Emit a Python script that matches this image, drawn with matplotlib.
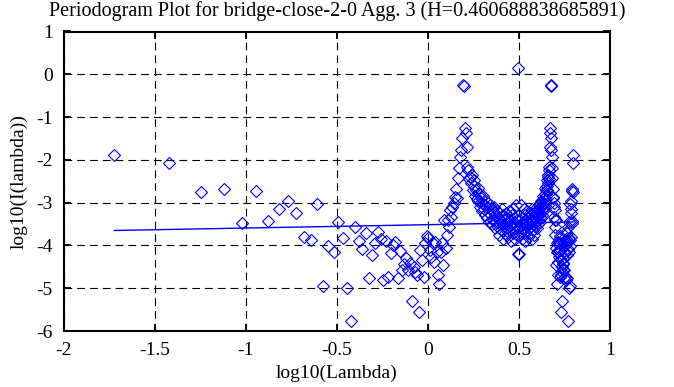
import numpy as np
import matplotlib
matplotlib.use('Agg')
import matplotlib.pyplot as plt

plt.rcParams['font.family'] = ['Liberation Serif', 'DejaVu Serif']
plt.rcParams['axes.unicode_minus'] = False

# series length and fitted Hurst parameter (from the title)
n_obs = 332
hurst = 0.460688838685891
fit_intercept = -3.515

# log10(I(lambda_k)) for k = 1..166;
# the upper half of the frequencies mirrors it (real-valued series)
log_I_half = [
    -1.88, -2.07, -2.76, -2.67, -3.48, -2.72, -3.42, -3.16, -2.96, -3.25,
    -3.80, -3.87, -3.04, -4.95, -4.01, -4.15, -3.45, -3.83, -5.00, -5.76,
    -3.58, -3.89, -4.09, -3.72, -4.77, -4.22, -3.95, -3.68, -3.86, -4.81,
    -3.89, -4.73, -4.18, -4.00, -3.91, -4.77, -4.14, -4.57, -4.44, -4.30,
    -4.57, -4.40, -5.29, -4.50, -4.62, -4.69, -5.56, -4.10, -4.34, -4.73,
    -3.95, -3.77, -3.83, -4.10, -4.26, -3.95, -4.38, -3.91, -4.15, -4.69,
    -4.89, -4.15, -3.95, -4.46, -3.41, -4.07, -3.76, -3.41, -3.56, -3.17,
    -3.33, -3.10, -3.00, -2.86, -2.67, -2.90, -2.43, -2.20, -1.93, -1.77,
    -1.50, -0.25, -0.27, -1.26, -1.37, -1.69, -2.16, -2.24, -2.45, -2.40,
    -2.55, -2.35, -2.70, -2.62, -2.48, -2.85, -2.70, -2.92, -2.65, -2.95,
    -2.80, -3.10, -2.88, -3.00, -3.20, -2.85, -3.15, -3.05, -3.30, -2.95,
    -3.10, -3.35, -3.00, -3.25, -3.45, -3.05, -3.30, -3.15, -3.50, -3.20,
    -3.40, -3.10, -3.60, -3.30, -3.45, -3.20, -3.55, -3.35, -3.75, -3.25,
    -3.50, -3.40, -3.65, -3.15, -3.45, -3.85, -3.30, -3.55, -3.40, -3.70,
    -3.25, -3.50, -3.60, -3.35, -3.80, -3.45, -3.20, -3.65, -3.40, -3.55,
    -3.90, -3.30, -3.50, -3.70, -3.15, -3.45, -3.60, -3.85, -3.35, -3.55,
    -3.05, -3.75, -3.40, -4.20, -3.60, 0.14,
]

x_ticks = [-2, -1.5, -1, -0.5, 0, 0.5, 1]
y_ticks = [1, 0, -1, -2, -3, -4, -5, -6]

lam = 2 * np.pi * np.arange(1, n_obs) / n_obs
log_lam = np.log10(lam)
log_I = np.array(log_I_half + log_I_half[-2::-1])

slope = 1 - 2 * hurst
fit_x = np.array([log_lam.min(), log_lam.max()])
fit_y = fit_intercept + slope * fit_x

fig = plt.figure(figsize=(6.74, 3.87), dpi=100)
ax = fig.add_axes([64 / 674, 1 - 331 / 387, 546 / 674, 299.5 / 387])

ax.plot(log_lam, log_I, linestyle='none', marker='D', ms=5.7,
        mfc='none', mec='#0000ff', mew=0.8)
ax.plot(fit_x, fit_y, color='#0000ff', lw=1.0)

ax.set_xlim(-2, 1)
ax.set_ylim(-6, 1)
ax.set_xticks(x_ticks)
ax.set_xticklabels(['%g' % t for t in x_ticks])
ax.set_yticks(y_ticks)
ax.set_yticklabels(['%g' % t for t in y_ticks])
ax.set_axisbelow(True)
ax.grid(True, color='black', linestyle=(0, (7, 4.5)), linewidth=0.8)
ax.tick_params(direction='in', length=5, width=1.3, top=True, right=True,
               labelsize=14, pad=8)
for sp in ax.spines.values():
    sp.set_linewidth(1.5)

ax.set_title('Periodogram Plot for bridge-close-2-0 Agg. 3 (H=0.460688838685891)',
             fontsize=14.5, pad=11)
ax.set_xlabel('log10(Lambda)', fontsize=14, labelpad=4)
ax.set_ylabel('log10(I(lambda))', fontsize=14, labelpad=6)

fig.savefig('out.png', dpi=100)
